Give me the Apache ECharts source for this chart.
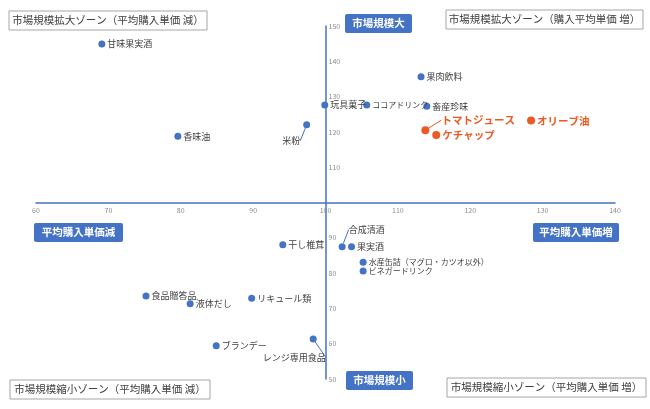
<!DOCTYPE html>
<html>
<head>
<meta charset="utf-8">
<script src="https://cdn.jsdelivr.net/npm/echarts@6/dist/echarts.min.js"></script>
<style>
html,body{margin:0;padding:0;background:#fff;}
#chart{width:650px;height:409px;}
</style>
</head>
<body>
<div id="chart"></div>
<script>
// ---- data ----
const xTicks = [60, 70, 80, 90, 100, 110, 120, 130, 140];
const yTicks = [50, 60, 70, 80, 90, 100, 110, 120, 130, 140, 150];

const blueNames = ['甘味果実酒','香味油','米粉','玩具菓子','ココアドリンク','果肉飲料','畜産珍味',
  '干し椎茸','合成清酒','果実酒','水産缶詰（マグロ・カツオ以外）','ビネガードリンク','食品贈答品','液体だし',
  'リキュール類','ブランデー','レンジ専用食品'];
const blueX = [69.1, 79.6, 97.4, 99.9, 105.7, 113.2, 114.0,
  94.1, 102.3, 103.6, 105.2, 105.2, 75.2, 81.3,
  89.8, 84.9, 98.3];
const blueY = [144.9, 118.8, 122.0, 127.6, 127.6, 135.6, 127.3,
  88.0, 87.5, 87.5, 83.1, 80.6, 73.5, 71.3,
  72.9, 59.4, 61.3];

const orangeNames = ['トマトジュース','ケチャップ','オリーブ油'];
const orangeX = [113.8, 115.3, 128.4];
const orangeY = [120.5, 119.1, 123.2];

// label nudges (pixels) for labels with leader lines
const labelNudge = {
  '米粉': [-30, 16],
  '合成清酒': [1, -17],
  'レンジ専用食品': [-56, 18],
  'トマトジュース': [10, -10]
};
// labels drawn narrower in the reference (half-width kana)
const narrowLabels = ['ココアドリンク', '水産缶詰（マグロ・カツオ以外）', 'ビネガードリンク'];

const BLUE = '#4472C4';
const ORANGE = '#EB5A24';
const FONT = '"Noto Sans CJK JP", "Noto Sans", sans-serif';

function build(names, xs, ys) {
  return names.map((n, i) => {
    const d = { name: n, value: [xs[i], ys[i]] };
    if (labelNudge[n]) d.labelLine = { show: true };
    if (narrowLabels.indexOf(n) >= 0) d.label = { fontSize: 8 };
    return d;
  });
}
const blueData = build(blueNames, blueX, blueY);
const orangeData = build(orangeNames, orangeX, orangeY);

function nudgeLayout(names) {
  return function (p) {
    const s = labelNudge[names[p.dataIndex]];
    return s ? { dx: s[0], dy: s[1] } : {};
  };
}

const chart = echarts.init(document.getElementById('chart'));

const gridLeft = 36, gridRight = 35, gridTop = 26, gridBottom = 30;
const W = 650, H = 409;
const gw = W - gridLeft - gridRight, gh = H - gridTop - gridBottom;

function box(x, y, w, h, text, filled) {
  return {
    type: 'group',
    z: 10,
    children: [
      {
        type: 'rect',
        shape: { x: x, y: y, width: w, height: h, r: filled ? 2 : 0 },
        style: filled ? { fill: BLUE } : { fill: '#fff', stroke: '#A6A6A6', lineWidth: 1 }
      },
      {
        type: 'text',
        x: x + w / 2, y: y + h / 2,
        style: {
          text: text,
          fill: filled ? '#fff' : '#404040',
          font: (filled ? 'bold ' : '') + '10.5px ' + FONT,
          align: 'center', verticalAlign: 'middle'
        }
      }
    ]
  };
}

chart.setOption({
  animation: false,
  backgroundColor: '#fff',
  grid: { left: gridLeft, right: gridRight, top: gridTop, bottom: gridBottom },
  xAxis: {
    type: 'value', min: xTicks[0], max: xTicks[xTicks.length - 1], interval: 10,
    position: 'bottom', offset: -gh / 2,
    axisLine: { show: true, lineStyle: { color: BLUE, width: 1.5 } },
    axisTick: { show: false },
    splitLine: { show: false },
    axisLabel: { fontSize: 7, color: '#8C8C8C', margin: 4, fontFamily: FONT }
  },
  yAxis: {
    type: 'value', min: yTicks[0], max: yTicks[yTicks.length - 1], interval: 10,
    position: 'left', offset: -gw / 2,
    axisLine: { show: true, lineStyle: { color: BLUE, width: 1.5 } },
    axisTick: { show: false },
    splitLine: { show: false },
    axisLabel: {
      inside: true, fontSize: 7, color: '#8C8C8C', margin: 3, fontFamily: FONT,
      formatter: v => (v === 100 ? '' : String(v))
    }
  },
  series: [
    {
      type: 'scatter', name: 'blue', data: blueData, symbolSize: 7,
      itemStyle: { color: BLUE, opacity: 1 },
      label: { show: true, position: 'right', distance: 2, formatter: '{b}',
        fontSize: 9, color: '#404040', fontFamily: FONT },
      labelLine: { show: false, lineStyle: { color: BLUE, width: 1 } },
      labelLayout: nudgeLayout(blueNames),
      z: 3
    },
    {
      type: 'scatter', name: 'orange', data: orangeData, symbolSize: 8,
      itemStyle: { color: ORANGE, opacity: 1 },
      label: { show: true, position: 'right', distance: 2, formatter: '{b}',
        fontSize: 10.5, fontWeight: 'bold', color: ORANGE, fontFamily: FONT },
      labelLine: { show: false, lineStyle: { color: ORANGE, width: 1 } },
      labelLayout: nudgeLayout(orangeNames),
      z: 4
    }
  ],
  graphic: [
    box(9, 11, 198, 19, '市場規模拡大ゾーン（平均購入単価 減）', false),
    box(446, 10, 197, 19, '市場規模拡大ゾーン（購入平均単価 増）', false),
    box(10, 380, 200, 19, '市場規模縮小ゾーン（平均購入単価 減）', false),
    box(447, 378, 199, 19, '市場規模縮小ゾーン（平均購入単価 増）', false),
    box(345, 14, 67, 19, '市場規模大', true),
    box(346, 371, 67, 19, '市場規模小', true),
    box(34, 223, 89, 19, '平均購入単価減', true),
    box(533, 223, 86, 19, '平均購入単価増', true)
  ]
});
</script>
</body>
</html>
